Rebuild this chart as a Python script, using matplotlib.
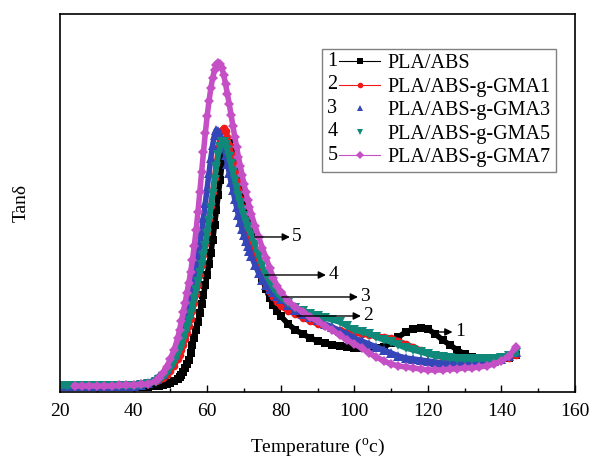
import numpy as np
import matplotlib
matplotlib.use("Agg")
import matplotlib.pyplot as plt
from matplotlib.lines import Line2D
from matplotlib.text import Text
from matplotlib.legend_handler import HandlerLine2D

nan = np.nan

# Temperature (deg C), denser sampling around the loss peak
temperature = [20, 22, 24, 26, 28, 30, 32, 34, 36, 38, 40, 42, 44, 46,
               47, 48, 49, 50, 51, 52,
               52.5, 53, 53.5, 54, 54.5, 55, 55.5, 56, 56.5, 57, 57.5, 58, 58.5, 59, 59.5, 60,
               60.5, 61, 61.5, 62, 62.5, 63, 63.5, 64, 64.5, 65, 65.5, 66, 66.5, 67, 67.5, 68,
               68.5, 69, 69.5, 70, 70.5, 71, 71.5, 72,
               73, 74, 75, 76, 77, 78, 79, 80,
               82, 84, 86, 88, 90, 92, 94, 96, 98, 100, 102, 104, 106, 108, 110, 112, 114, 116,
               118, 120, 122, 124, 126, 128, 130, 132, 134, 136, 138, 140, 142, 144]

# tan delta of each blend
tan_pla_abs = [0.010, 0.010, 0.010, 0.010, 0.010, 0.010, 0.010, 0.010, 0.010, 0.010, 0.010, 0.010, 0.010, 0.012,
               0.012, 0.014, 0.016, 0.018, 0.022, 0.026,
               0.030, 0.034, 0.040, 0.048, 0.056, 0.064, 0.078, 0.094, 0.108, 0.124, 0.140, 0.158, 0.176, 0.194,
               0.214, 0.234, 0.256, 0.278, 0.304, 0.334, 0.364, 0.394, 0.424, 0.454, 0.476, 0.492, 0.500, 0.498,
               0.488, 0.474, 0.458, 0.440, 0.422, 0.402, 0.384, 0.368, 0.352, 0.338, 0.324, 0.310,
               0.280, 0.252, 0.226, 0.206, 0.188, 0.174, 0.162, 0.152,
               0.136, 0.124, 0.116, 0.108, 0.102, 0.098, 0.094, 0.092, 0.090, 0.088, 0.088, 0.088, 0.088, 0.090,
               0.098, 0.110, 0.120, 0.126, 0.128, 0.126, 0.116, 0.104, 0.094, 0.084, 0.076, 0.070, 0.066, 0.064,
               0.064, 0.064, 0.068, 0.074]

tan_gma1 = [0.012, 0.012, 0.012, 0.012, 0.012, 0.012, 0.012, 0.012, 0.012, 0.012, 0.012, 0.013, 0.016, 0.022,
            0.024, 0.028, 0.034, 0.042, 0.052, 0.066,
            0.074, 0.084, 0.094, 0.106, 0.118, 0.132, 0.146, 0.162, 0.178, 0.196, 0.214, 0.234, 0.254, 0.274,
            0.296, 0.320, 0.346, 0.372, 0.400, 0.428, 0.456, 0.484, 0.508, 0.524, 0.528, 0.522, 0.510, 0.494,
            0.476, 0.458, 0.440, 0.422, 0.404, 0.386, 0.370, 0.354, 0.340, 0.326, 0.312, 0.298,
            0.272, 0.248, 0.228, 0.212, 0.200, 0.190, 0.180, 0.172,
            0.162, 0.156, 0.148, 0.142, 0.136, 0.132, 0.128, 0.124, 0.120, 0.118, 0.116, 0.114, 0.112, 0.110,
            0.108, 0.102, 0.096, 0.090, 0.084, 0.078, 0.074, 0.070, 0.068, 0.066, 0.064, 0.062, 0.062, 0.062,
            0.062, 0.064, 0.068, 0.074]

tan_gma3 = [0.012, 0.012, 0.012, 0.012, 0.012, 0.012, 0.012, 0.012, 0.012, 0.012, 0.012, 0.014, 0.018, 0.026,
            0.032, 0.036, 0.046, 0.058, 0.074, 0.094,
            0.106, 0.118, 0.132, 0.146, 0.162, 0.178, 0.196, 0.214, 0.232, 0.252, 0.274, 0.296, 0.322, 0.348,
            0.378, 0.408, 0.438, 0.468, 0.494, 0.514, 0.524, 0.522, 0.514, 0.504, 0.490, 0.474, 0.456, 0.438,
            0.420, 0.404, 0.386, 0.370, 0.354, 0.340, 0.326, 0.314, 0.302, 0.292, 0.282, 0.272,
            0.254, 0.238, 0.224, 0.214, 0.206, 0.200, 0.192, 0.186,
            0.174, 0.164, 0.156, 0.150, 0.144, 0.136, 0.130, 0.122, 0.116, 0.108, 0.102, 0.096, 0.090, 0.084,
            0.078, 0.072, 0.068, 0.066, 0.064, 0.062, 0.060, 0.058, 0.058, 0.058, 0.058, 0.058, 0.058, 0.060,
            0.062, 0.066, 0.072, 0.080]

tan_gma5 = [0.012, 0.012, 0.012, 0.012, 0.012, 0.012, 0.012, 0.012, 0.012, 0.012, 0.012, 0.013, 0.016, 0.020,
            0.024, 0.030, 0.038, 0.048, 0.060, 0.076,
            0.084, 0.094, 0.104, 0.116, 0.128, 0.142, 0.156, 0.172, 0.188, 0.204, 0.220, 0.238, 0.254, 0.272,
            0.292, 0.316, 0.342, 0.368, 0.396, 0.424, 0.450, 0.474, 0.490, 0.500, 0.500, 0.494, 0.484, 0.470,
            0.456, 0.440, 0.424, 0.408, 0.392, 0.378, 0.364, 0.352, 0.340, 0.330, 0.322, 0.314,
            0.294, 0.272, 0.252, 0.234, 0.220, 0.208, 0.198, 0.190,
            0.178, 0.168, 0.162, 0.156, 0.152, 0.148, 0.144, 0.140, 0.132, 0.124, 0.120, 0.116, 0.110, 0.104,
            0.100, 0.094, 0.088, 0.084, 0.080, 0.076, 0.072, 0.070, 0.068, 0.066, 0.066, 0.066, 0.066, 0.066,
            0.066, 0.068, 0.072, 0.078]

tan_gma7 = [nan, nan, 0.012, 0.012, 0.012, 0.012, 0.012, 0.012, 0.013, 0.014, 0.014, 0.015, 0.016, 0.022,
            0.028, 0.038, 0.050, 0.066, 0.084, 0.108,
            0.124, 0.142, 0.160, 0.178, 0.198, 0.218, 0.240, 0.264, 0.292, 0.324, 0.360, 0.400, 0.440, 0.480,
            0.518, 0.552, 0.582, 0.608, 0.628, 0.644, 0.654, 0.658, 0.656, 0.648, 0.634, 0.616, 0.596, 0.576,
            0.554, 0.532, 0.510, 0.490, 0.470, 0.452, 0.434, 0.416, 0.400, 0.384, 0.370, 0.356,
            0.332, 0.310, 0.288, 0.268, 0.248, 0.228, 0.212, 0.200,
            0.182, 0.170, 0.160, 0.150, 0.142, 0.132, 0.124, 0.114, 0.104, 0.096, 0.088, 0.078, 0.070, 0.062,
            0.056, 0.052, 0.050, 0.048, 0.046, 0.044, 0.044, 0.044, 0.046, 0.046, 0.048, 0.048, 0.050, 0.052,
            0.056, 0.062, 0.072, 0.090]

labels = ["PLA/ABS", "PLA/ABS-g-GMA1", "PLA/ABS-g-GMA3", "PLA/ABS-g-GMA5", "PLA/ABS-g-GMA7"]
numbers = ["1", "2", "3", "4", "5"]
colors = ["#000000", "#f01818", "#3546b8", "#11897a", "#c550c5"]
markers = ["s", "o", "^", "v", "D"]
msizes = [5.5, 5.5, 6.5, 6.5, 5.5]
legend_lines = [True, True, False, False, True]

# number label and arrow start/end for each curve (deg C, tan delta)
arrow_y = [0.120, 0.152, 0.190, 0.234, 0.310]
arrow_x0 = [121.9, 84.4, 80.3, 75.7, 73.0]
arrow_x1 = [126.7, 101.8, 101.0, 92.3, 82.5]

plt.rcParams["font.family"] = ["Liberation Serif", "DejaVu Serif"]
plt.rcParams["mathtext.fontset"] = "custom"
plt.rcParams["mathtext.rm"] = "Liberation Serif"
fontsize = 14


class NumberedHandler(HandlerLine2D):
    """Legend handle drawn as 'n--marker--'."""

    def __init__(self, num, **kw):
        super().__init__(**kw)
        self.num = num

    def create_artists(self, legend, orig_handle, xdescent, ydescent,
                       width, height, fontsize, trans):
        shift = fontsize * 0.6
        artists = super().create_artists(legend, orig_handle, xdescent - shift, ydescent,
                                         width - shift, height, fontsize, trans)
        t = Text(-xdescent, height / 2 - ydescent, self.num, ha="left", va="center",
                 fontsize=fontsize, family="Liberation Serif")
        t.set_transform(trans)
        return list(artists) + [t]


fig = plt.figure(figsize=(5.92, 4.59), dpi=100)
ax = fig.add_axes([0.1014, 0.146, 0.8699, 0.8235])

series = [tan_pla_abs, tan_gma1, tan_gma3, tan_gma5, tan_gma7]
for vals, c, m, ms in zip(series, colors, markers, msizes):
    ax.plot(temperature, vals, color=c, lw=4, marker=m, markersize=ms,
            markeredgewidth=0, zorder=2)

# numbered arrows pointing at each curve
for n, y, x0, x1 in zip(numbers, arrow_y, arrow_x0, arrow_x1):
    ax.annotate("", xy=(x1, y), xytext=(x0, y),
                arrowprops=dict(arrowstyle="-|>", color="black", lw=1.0,
                                mutation_scale=11, shrinkA=0, shrinkB=0),
                zorder=5)
    ax.text(x1 + 0.6, y, n, ha="left", va="center", fontsize=fontsize, zorder=5)

ax.set_xlim(20, 160)
ax.set_ylim(0, 0.756)
ax.set_xticks(np.arange(20, 161, 20))
ax.set_xticks(np.arange(30, 160, 20), minor=True)
ax.set_yticks([])
ax.tick_params(axis="x", which="major", direction="in", length=5, width=1,
               labelsize=fontsize, pad=8)
ax.tick_params(axis="x", which="minor", direction="in", length=3, width=1)
for s in ax.spines.values():
    s.set_linewidth(1.2)

ax.set_xlabel(r"Temperature ($^{\rm o}$c)", fontsize=fontsize, labelpad=12)
ax.set_ylabel("Tanδ", fontsize=fontsize, labelpad=22)

handles = []
hmap = {}
for n, lab, c, m, has_line in zip(numbers, labels, colors, markers, legend_lines):
    h = Line2D([], [], color=c, lw=0.8 if has_line else 0, marker=m, markersize=4,
               markeredgewidth=0, linestyle="-" if has_line else "none")
    handles.append(h)
    hmap[h] = NumberedHandler(n)

leg = ax.legend(handles, labels, handler_map=hmap, loc="upper right",
                bbox_to_anchor=(0.963, 0.907), fontsize=14.5, frameon=True,
                fancybox=False, edgecolor="#808080", framealpha=1,
                handlelength=2.6, handletextpad=0.4, labelspacing=0.22,
                borderpad=0.25, borderaxespad=0)
leg.get_frame().set_linewidth(1.0)

fig.savefig("out.png", dpi=100)
